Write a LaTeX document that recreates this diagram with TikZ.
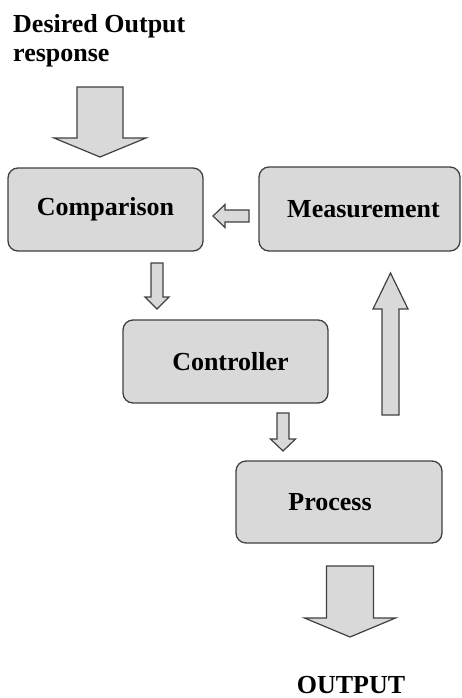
\documentclass[tikz,border=0pt]{standalone}
\usepackage{fontspec}
\setmainfont{Liberation Serif}
\usepackage{tikz}
\usetikzlibrary{calc}
\usepackage{xcolor}
\definecolor{boxgray}{RGB}{217,217,217}
\definecolor{linegray}{RGB}{64,64,64}

% fat hollow arrow: from, to, shaft half width, head half width, head length
\newcommand{\fatarrow}[5]{%
\coordinate (h) at ($(#2)!#5!(#1)$);
\draw[fat] ($(#1)!#3!90:(#2)$) -- ($(h)!#3!90:(#2)$) -- ($(h)!#4!90:(#2)$) -- (#2)
  -- ($(h)!#4!-90:(#2)$) -- ($(h)!#3!-90:(#2)$) -- ($(#1)!#3!-90:(#2)$) -- cycle;}

\begin{document}
\begin{tikzpicture}[x=1pt,y=-1pt,
  main/.style = {draw=linegray, fill=boxgray, line width=1.3pt, rounded corners=10pt,
    font=\fontsize{26}{29}\selectfont\bfseries},
  lbl/.style = {font=\fontsize{26}{29}\selectfont\bfseries, inner sep=0pt},
  fat/.style = {draw=linegray, fill=boxgray, line width=1.2pt, line join=miter}]
\useasboundingbox (0,0) rectangle (461,698);
\node[main, minimum width=195pt, minimum height=83pt] (1) at (105.5,209.5) {Comparison};
\node[main, minimum width=201pt, minimum height=84pt] (2) at (359.5,209) {\hspace*{8pt}Measurement};
\node[main, minimum width=205pt, minimum height=83pt] (3) at (225.5,361.5) {\hspace*{10pt}Controller};
\node[main, minimum width=206pt, minimum height=82pt] (4) at (339,502) {Process\hspace*{18pt}};
\node[lbl, align=left, anchor=north west] (5) at (13,14) {Desired Output\\response};
\node[lbl] (6) at (351,685) {OUTPUT};
% arrow ends
\coordinate (a1s) at (100,87);    \coordinate (a1e) at (100,157);
\coordinate (a2s) at (249,216);   \coordinate (a2e) at (213,216);
\coordinate (a3s) at (157,263);   \coordinate (a3e) at (157,309);
\coordinate (a4s) at (283,413);   \coordinate (a4e) at (283,451);
\coordinate (a5s) at (390.5,415); \coordinate (a5e) at (390.5,273);
\coordinate (a6s) at (350,566);   \coordinate (a6e) at (350,637);
\fatarrow{a1s}{a1e}{23pt}{46pt}{19pt}
\fatarrow{a2s}{a2e}{6pt}{11.5pt}{12pt}
\fatarrow{a3s}{a3e}{6pt}{12pt}{12pt}
\fatarrow{a4s}{a4e}{6pt}{12.5pt}{12pt}
\fatarrow{a5s}{a5e}{8.5pt}{17.5pt}{36pt}
\fatarrow{a6s}{a6e}{23.5pt}{45.5pt}{19pt}
\end{tikzpicture}
\end{document}
